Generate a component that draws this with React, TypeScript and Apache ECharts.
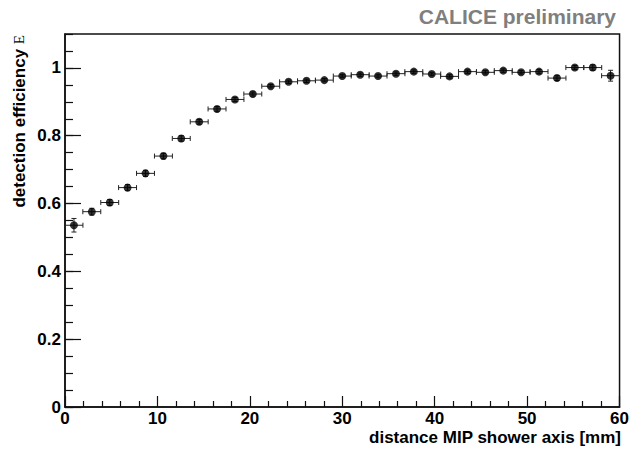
import React, { useEffect, useRef } from "react";
import * as echarts from "echarts";

// Bin centres of the 31 bins (distance to MIP shower axis, mm)
const xCenters = [
  0.97, 2.9, 4.84, 6.77, 8.71, 10.65, 12.58, 14.52, 16.45, 18.39, 20.32,
  22.26, 24.19, 26.13, 28.06, 30.0, 31.94, 33.87, 35.81, 37.74, 39.68,
  41.61, 43.55, 45.48, 47.42, 49.35, 51.29, 53.23, 55.16, 57.1, 59.03,
];
const binHalfWidth = 0.97;

// detection efficiency per bin
const efficiency = [
  0.536, 0.576, 0.603, 0.647, 0.689, 0.74, 0.792, 0.841, 0.879, 0.907,
  0.923, 0.946, 0.959, 0.962, 0.964, 0.976, 0.98, 0.976, 0.983, 0.989,
  0.982, 0.975, 0.989, 0.987, 0.992, 0.987, 0.989, 0.97, 1.001, 1.001,
  0.977,
];
const efficiencyErr = [
  0.02, 0.01, 0.009, 0.009, 0.009, 0.008, 0.008, 0.007, 0.007, 0.006,
  0.006, 0.005, 0.005, 0.005, 0.005, 0.005, 0.005, 0.005, 0.005, 0.005,
  0.005, 0.005, 0.005, 0.005, 0.005, 0.005, 0.006, 0.007, 0.006, 0.008,
  0.016,
];

const xTitle = "distance MIP shower axis [mm]";
const yTitle = "detection efficiency ";
const yTitleSymbol = "Ε";
const headerText = "CALICE preliminary";

const FONT = "'Liberation Sans', Arial, Helvetica, sans-serif";

export default function App() {
  const ref = useRef<HTMLDivElement>(null);

  useEffect(() => {
    if (!ref.current) return;
    const chart = echarts.init(ref.current, undefined, { renderer: "svg" });

    const errData = xCenters.map((x, i) => [x, efficiency[i], efficiencyErr[i]]);
    const pointData = xCenters.map((x, i) => [x, efficiency[i]]);

    const option: any = {
      animation: false,
      backgroundColor: "#fff",
      grid: {
        left: 65,
        right: 9,
        top: 34,
        bottom: 44,
        show: true,
        borderColor: "#111",
        borderWidth: 1.5,
        backgroundColor: "transparent",
      },
      xAxis: {
        type: "value",
        min: 0,
        max: 60,
        interval: 10,
        axisLine: { show: true, lineStyle: { color: "#111", width: 1.5 } },
        axisTick: { show: true, inside: true, length: 11, lineStyle: { color: "#111", width: 1.2 } },
        minorTick: { show: true, splitNumber: 5, length: 6, lineStyle: { color: "#111", width: 1.2 } },
        splitLine: { show: false },
        minorSplitLine: { show: false },
        axisLabel: {
          color: "#000",
          fontFamily: FONT,
          fontWeight: "bold",
          fontSize: 17,
          margin: 3,
        },
      },
      yAxis: [
        {
          type: "value",
          position: "left",
          min: 0,
          max: 1.1,
          interval: 0.2,
          axisLine: { show: true, lineStyle: { color: "#111", width: 1.5 } },
          axisTick: { show: true, inside: true, length: 16, lineStyle: { color: "#111", width: 1.2 } },
          splitLine: { show: false },
          axisLabel: {
            color: "#000",
            fontFamily: FONT,
            fontWeight: "bold",
            fontSize: 17,
            margin: 4,
            showMaxLabel: false,
          },
        },
        {
          type: "value",
          position: "left",
          min: 0,
          max: 1.1,
          interval: 0.05,
          axisLine: { show: false },
          axisTick: { show: true, inside: true, length: 8, lineStyle: { color: "#111", width: 1.2 } },
          splitLine: { show: false },
          axisLabel: { show: false },
        },
      ],
      series: [
        {
          type: "custom",
          yAxisIndex: 0,
          data: errData,
          encode: { x: 0, y: 1 },
          z: 2,
          renderItem: (_params: any, api: any) => {
            const x = api.value(0);
            const y = api.value(1);
            const ey = api.value(2);
            const c = api.coord([x, y]);
            const l = api.coord([x - binHalfWidth, y]);
            const r = api.coord([x + binHalfWidth, y]);
            const t = api.coord([x, y + ey]);
            const b = api.coord([x, y - ey]);
            const cap = 2.5;
            const style = { stroke: "#222", lineWidth: 1, fill: null };
            const line = (x1: number, y1: number, x2: number, y2: number) => ({
              type: "line",
              shape: { x1, y1, x2, y2 },
              style,
            });
            return {
              type: "group",
              children: [
                line(l[0], c[1], r[0], c[1]),
                line(l[0], c[1] - cap, l[0], c[1] + cap),
                line(r[0], c[1] - cap, r[0], c[1] + cap),
                line(c[0], t[1], c[0], b[1]),
                line(c[0] - cap, t[1], c[0] + cap, t[1]),
                line(c[0] - cap, b[1], c[0] + cap, b[1]),
              ],
            };
          },
        },
        {
          type: "scatter",
          yAxisIndex: 0,
          data: pointData,
          symbol: "circle",
          symbolSize: 8,
          itemStyle: { color: "#000" },
          z: 3,
        },
      ],
      graphic: [
        {
          type: "text",
          x: 616,
          y: 16,
          style: {
            text: headerText,
            fill: "#7f7f7f",
            font: `bold 21px ${FONT}`,
            textAlign: "right",
            textVerticalAlign: "middle",
          },
        },
        {
          type: "text",
          x: 621,
          y: 437,
          style: {
            text: xTitle,
            fill: "#000",
            font: `bold 17px ${FONT}`,
            textAlign: "right",
            textVerticalAlign: "middle",
          },
        },
        {
          type: "text",
          x: 19,
          y: 35,
          rotation: Math.PI / 2,
          style: {
            text: `{a|${yTitle}}{b|${yTitleSymbol}}`,
            textAlign: "right",
            textVerticalAlign: "middle",
            rich: {
              a: { fontFamily: FONT, fontWeight: "bold", fontSize: 17, fill: "#000", color: "#000" },
              b: { fontFamily: "'Liberation Serif', 'DejaVu Serif', serif", fontSize: 15, fill: "#000", color: "#000" },
            },
          },
        },
      ],
    };

    chart.setOption(option);
    return () => chart.dispose();
  }, []);

  return (
    <div
      ref={ref}
      style={{ position: "absolute", left: 0, top: 0, width: 632, height: 451 }}
    />
  );
}
